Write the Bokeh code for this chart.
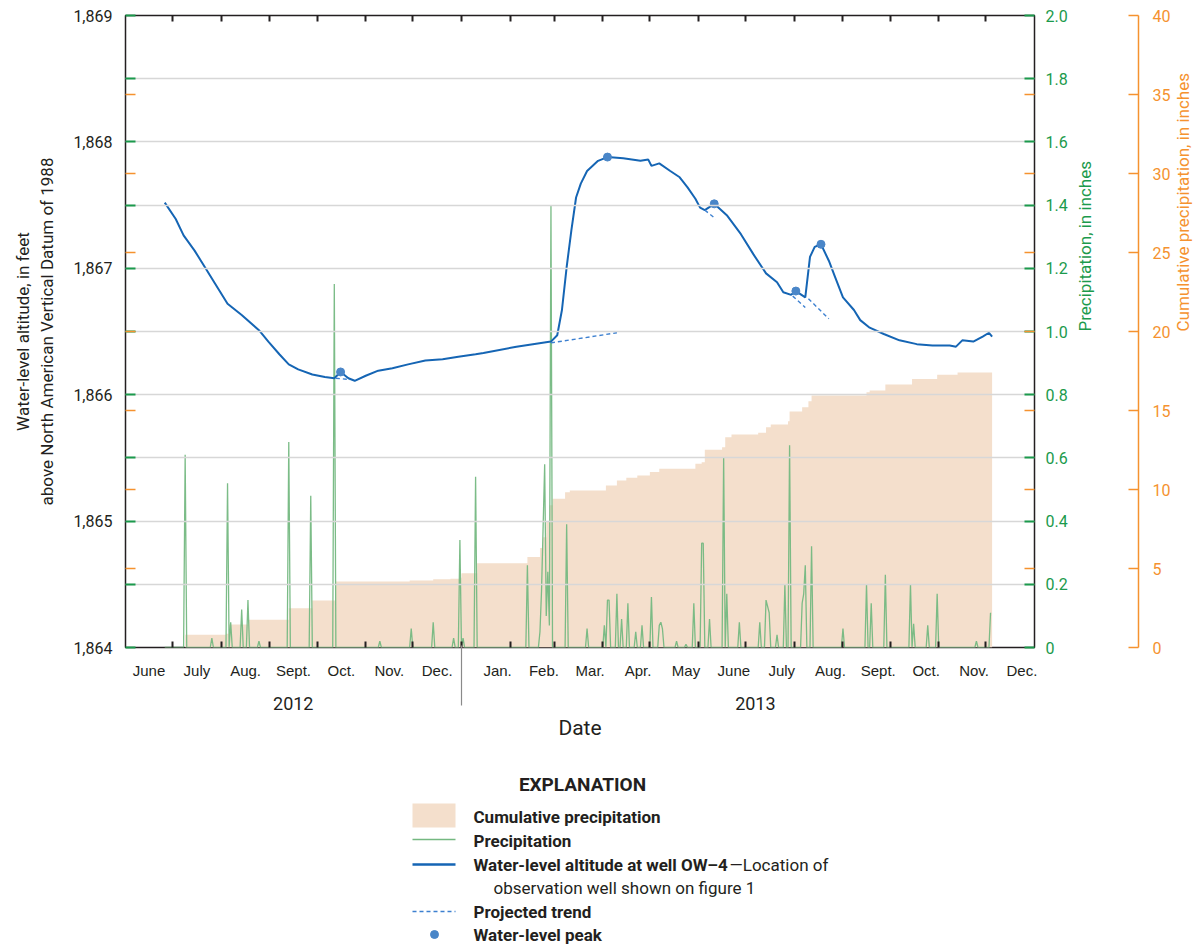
import math
import pandas as pd
from bokeh.plotting import figure
from bokeh.models import Range1d, LinearAxis, FixedTicker, Grid
from bokeh.layouts import column
from bokeh.embed import file_html
from bokeh.resources import INLINE
from bokeh.core.properties import value

# ------------------------------------------------------------------ data
wl_dates = ["2012-06-26","2012-07-03","2012-07-08","2012-07-15","2012-07-22","2012-07-28",
            "2012-08-05","2012-08-14","2012-08-25","2012-08-31","2012-09-07","2012-09-13",
            "2012-09-19","2012-09-28","2012-10-06","2012-10-12","2012-10-16","2012-10-21",
            "2012-10-25","2012-11-01","2012-11-09","2012-11-18","2012-11-28","2012-12-09",
            "2012-12-20","2012-12-30","2013-01-10","2013-01-15","2013-02-05","2013-02-27",
            "2013-03-03","2013-03-06","2013-03-09","2013-03-12","2013-03-15","2013-03-18",
            "2013-03-22","2013-03-29","2013-04-04","2013-04-14","2013-04-25","2013-04-30",
            "2013-05-02","2013-05-07","2013-05-14","2013-05-20","2013-05-25","2013-05-30",
            "2013-06-02","2013-06-05","2013-06-11","2013-06-19","2013-06-28","2013-07-06",
            "2013-07-14","2013-07-21","2013-07-25","2013-07-30","2013-08-02","2013-08-08",
            "2013-08-11","2013-08-14","2013-08-18","2013-08-23","2013-08-27","2013-09-01",
            "2013-09-08","2013-09-12","2013-09-18","2013-09-27","2013-10-07","2013-10-18",
            "2013-10-28","2013-11-08","2013-11-12","2013-11-16","2013-11-23","2013-11-29",
            "2013-12-03","2013-12-05"]
wl_ft = [1867.52,1867.39,1867.26,1867.14,1867.00,1866.88,
         1866.72,1866.63,1866.51,1866.42,1866.32,1866.24,
         1866.20,1866.16,1866.14,1866.13,1866.18,1866.13,
         1866.11,1866.15,1866.19,1866.21,1866.24,1866.27,
         1866.28,1866.30,1866.32,1866.33,1866.38,1866.42,
         1866.47,1866.67,1867.01,1867.30,1867.56,1867.67,
         1867.77,1867.85,1867.88,1867.87,1867.85,1867.86,
         1867.81,1867.83,1867.77,1867.72,1867.64,1867.55,
         1867.48,1867.46,1867.51,1867.42,1867.27,1867.11,
         1866.96,1866.89,1866.81,1866.79,1866.82,1866.77,
         1867.09,1867.17,1867.19,1867.06,1866.93,1866.77,
         1866.67,1866.59,1866.53,1866.48,1866.43,1866.40,
         1866.39,1866.39,1866.38,1866.43,1866.42,1866.46,
         1866.49,1866.46]

peak_dates = ["2012-10-16","2013-04-04","2013-06-11","2013-08-02","2013-08-18"]
peak_ft = [1866.18,1867.88,1867.51,1866.82,1867.19]

trend_dates = [["2012-10-13","2012-10-22"],["2013-02-27","2013-04-10"],["2013-06-05","2013-06-12"],
               ["2013-07-31","2013-08-08"],["2013-08-10","2013-08-23"]]
trend_ft = [[1866.13,1866.12],[1866.41,1866.49],[1867.46,1867.39],
            [1866.78,1866.69],[1866.76,1866.60]]

rain_dates = ["2012-07-09","2012-07-26","2012-08-05","2012-08-07","2012-08-14","2012-08-18",
              "2012-08-25","2012-09-13","2012-09-27","2012-10-12","2012-11-10","2012-11-30",
              "2012-12-14","2012-12-27","2012-12-31","2013-01-02","2013-01-10","2013-02-12",
              "2013-02-20","2013-02-21","2013-02-22","2013-02-23","2013-02-24","2013-02-25",
              "2013-02-26","2013-02-27","2013-03-09","2013-03-22","2013-04-02","2013-04-04",
              "2013-04-05","2013-04-10","2013-04-13","2013-04-17","2013-04-22","2013-04-26",
              "2013-05-02","2013-05-07","2013-05-08","2013-05-09","2013-05-18","2013-05-24",
              "2013-05-29","2013-06-03","2013-06-04","2013-06-08","2013-06-17","2013-06-19",
              "2013-06-27","2013-07-10","2013-07-14","2013-07-15","2013-07-16","2013-07-21",
              "2013-07-26","2013-07-29","2013-08-06","2013-08-07","2013-08-08","2013-08-12",
              "2013-09-01","2013-09-16","2013-09-19","2013-09-28","2013-10-14","2013-10-16",
              "2013-10-25","2013-10-31","2013-11-25","2013-12-04"]
rain_in = [0.61,0.03,0.52,0.08,0.12,0.15,
           0.02,0.65,0.48,1.15,0.02,0.06,
           0.08,0.03,0.34,0.03,0.54,0.26,
           0.05,0.18,0.38,0.58,0.10,0.24,
           0.07,1.40,0.39,0.06,0.07,0.15,
           0.15,0.17,0.09,0.14,0.05,0.07,
           0.16,0.07,0.08,0.06,0.02,0.01,
           0.14,0.33,0.33,0.09,0.60,0.17,
           0.08,0.08,0.15,0.13,0.11,0.04,
           0.20,0.64,0.14,0.17,0.26,0.32,
           0.06,0.20,0.14,0.23,0.20,0.075,
           0.07,0.17,0.02,0.11]
rain_first, rain_last = "2012-06-26", "2013-12-04"

cum_dates = ["2012-07-09","2012-08-04","2012-08-06","2012-08-18","2012-09-13","2012-09-28",
             "2012-10-13","2012-11-29","2012-12-14","2012-12-25","2012-12-31","2013-01-01",
             "2013-01-11","2013-02-12","2013-02-20","2013-02-22","2013-02-24","2013-02-26",
             "2013-02-28","2013-03-08","2013-03-11","2013-04-03","2013-04-10","2013-04-16",
             "2013-04-23","2013-05-01","2013-05-07","2013-05-30","2013-06-03","2013-06-05",
             "2013-06-16","2013-06-18","2013-06-22","2013-07-09","2013-07-14","2013-07-17",
             "2013-07-28","2013-07-29","2013-08-06","2013-08-10","2013-08-12","2013-09-16",
             "2013-09-18","2013-09-28","2013-10-15","2013-10-31","2013-11-13","2013-12-05"]
cum_in = [0.80,0.87,1.46,1.75,2.49,2.97,
          4.18,4.24,4.32,4.35,4.41,4.70,
          5.34,5.72,6.30,6.98,8.00,9.00,
          9.41,9.83,9.94,10.25,10.57,10.74,
          10.89,11.10,11.31,11.63,11.73,12.51,
          12.68,13.31,13.48,13.59,13.94,14.11,
          14.32,14.94,15.21,15.59,15.95,16.16,
          16.27,16.65,17.00,17.26,17.41,17.41]

month_names = ["June","July","Aug.","Sept.","Oct.","Nov.","Dec.",
               "Jan.","Feb.","Mar.","Apr.","May","June","July","Aug.","Sept.","Oct.","Nov.","Dec."]
year_names = ["2012", "2013"]
wl_tick_values = [1864, 1865, 1866, 1867, 1868, 1869]
wl_tick_labels = ["1,864", "1,865", "1,866", "1,867", "1,868", "1,869"]
precip_tick_values = [0.0, 0.2, 0.4, 0.6, 0.8, 1.0, 1.2, 1.4, 1.6, 1.8, 2.0]
precip_tick_labels = ["0", "0.2", "0.4", "0.6", "0.8", "1.0", "1.2", "1.4", "1.6", "1.8", "2.0"]
cum_tick_values = [0, 5, 10, 15, 20, 25, 30, 35, 40]
cum_tick_labels = ["0", "5", "10", "15", "20", "25", "30", "35", "40"]

# ------------------------------------------------------------------ helpers
ORIGIN = pd.Timestamp("2012-06-01")
END = pd.Timestamp("2014-01-01")


def dnum(d):
    return float((pd.Timestamp(d) - ORIGIN).days)


FONT_N = "Roboto"
FONT = "Liberation Sans"
TXT = "#231f20"
GREEN = "#1b9a4c"
ORANGE = "#f5922f"
PEACH = "#f4dfcc"
RAIN = "#74b881"
BLUE = "#1565b4"
PEAK = "#4a86c8"

month_starts = [dnum(d) for d in pd.date_range(ORIGIN, END, freq="MS")]
month_bounds = month_starts[1:-1]
jan_2013 = dnum("2013-01-01")
shift_2013 = 7.5
month_centers = []
for a, b in zip(month_starts[:-1], month_starts[1:]):
    c = (a + b) / 2.0
    if a >= jan_2013:
        c += shift_2013
    month_centers.append(c)
year_centers = [sum(month_centers[:7]) / 7.0, sum(month_centers[7:]) / 12.0 - 2.0]

wl_grid = [1864 + 0.5 * i for i in range(11)]
wl_over = {v: "" for v in wl_grid}
for v, lab in zip(wl_tick_values, wl_tick_labels):
    wl_over[float(v)] = lab
cum_marks_wl = [1864 + c * 5.0 / 40.0 for c in cum_tick_values[1:-1]]
cum_marks_pr = [c * 2.0 / 40.0 for c in cum_tick_values[1:-1]]

# daily precipitation series (days without a listed value had no rain)
rain_lookup = dict(zip(rain_dates, rain_in))
rain_days = pd.date_range(rain_first, rain_last, freq="D")
rain_x = [dnum(d) for d in rain_days]
rain_y = [rain_lookup.get(d.strftime("%Y-%m-%d"), 0.0) for d in rain_days]

# ------------------------------------------------------------------ main figure
p = figure(frame_width=909, frame_height=632,
           x_range=Range1d(0, dnum(END)), y_range=Range1d(1864, 1869),
           x_axis_location=None, y_axis_location=None,
           toolbar_location=None, output_backend="svg",
           min_border_left=125, min_border_top=15, min_border_right=4, min_border_bottom=111,
           outline_line_color=TXT, outline_line_width=1.5)
p.grid.visible = False
p.extra_y_ranges = {"precip": Range1d(0, 2), "cum": Range1d(0, 40)}

p.add_layout(Grid(dimension=1, ticker=FixedTicker(ticks=wl_grid[1:-1]),
                  grid_line_color="#d7d7d7", grid_line_width=1.5, level="glyph"))

# left axis (water level)
ax_l = LinearAxis(ticker=FixedTicker(ticks=wl_grid, minor_ticks=cum_marks_wl),
                  major_label_overrides=wl_over, axis_line_color=None,
                  major_tick_in=10, major_tick_out=0, major_tick_line_color=GREEN,
                  major_tick_line_width=2,
                  minor_tick_in=10, minor_tick_out=0, minor_tick_line_color=ORANGE,
                  minor_tick_line_width=1.5,
                  major_label_text_font=FONT_N, major_label_text_font_size="16px",
                  major_label_text_color=TXT, major_label_standoff=13,
                  axis_label="Water-level altitude, in feet\nabove North American Vertical Datum of 1988",
                  axis_label_text_font=FONT_N, axis_label_text_font_size="17px",
                  axis_label_text_font_style="normal", axis_label_text_color=TXT,
                  axis_label_standoff=13)
p.add_layout(ax_l, "left")

# right axis 1 (precipitation)
ax_p = LinearAxis(y_range_name="precip",
                  ticker=FixedTicker(ticks=precip_tick_values, minor_ticks=cum_marks_pr),
                  major_label_overrides=dict(zip(precip_tick_values, precip_tick_labels)),
                  axis_line_color=None,
                  major_tick_in=10, major_tick_out=0, major_tick_line_color=GREEN,
                  major_tick_line_width=2,
                  minor_tick_in=10, minor_tick_out=0, minor_tick_line_color=ORANGE,
                  minor_tick_line_width=1.5,
                  major_label_text_font=FONT_N, major_label_text_font_size="16px",
                  major_label_text_color=GREEN, major_label_standoff=11,
                  axis_label="Precipitation, in inches", axis_label_orientation=math.pi / 2,
                  axis_label_text_font=FONT_N, axis_label_text_font_size="17px",
                  axis_label_text_font_style="normal", axis_label_text_color=GREEN,
                  axis_label_standoff=14)
p.add_layout(ax_p, "right")

# spacer between the two right axes
ax_sp = LinearAxis(y_range_name="precip", ticker=FixedTicker(ticks=[]),
                   axis_line_color=None, major_tick_line_color=None, minor_tick_line_color=None,
                   major_tick_out=0, major_tick_in=0, minor_tick_out=0, minor_tick_in=0,
                   major_label_standoff=0, axis_label=" ", axis_label_standoff=0,
                   axis_label_text_font_size="25px")
p.add_layout(ax_sp, "right")

# right axis 2 (cumulative precipitation)
ax_c = LinearAxis(y_range_name="cum",
                  ticker=FixedTicker(ticks=cum_tick_values, minor_ticks=[]),
                  major_label_overrides=dict(zip(cum_tick_values, cum_tick_labels)),
                  axis_line_color=ORANGE, axis_line_width=1.5,
                  major_tick_in=10, major_tick_out=0, major_tick_line_color=ORANGE,
                  major_tick_line_width=1.5,
                  major_label_text_font=FONT_N, major_label_text_font_size="16px",
                  major_label_text_color=ORANGE, major_label_standoff=14,
                  axis_label="Cumulative precipitation, in inches",
                  axis_label_orientation=math.pi / 2,
                  axis_label_text_font=FONT_N, axis_label_text_font_size="17px",
                  axis_label_text_font_style="normal", axis_label_text_color=ORANGE,
                  axis_label_standoff=10)
p.add_layout(ax_c, "right")

# top: month-boundary ticks only
ax_t = LinearAxis(ticker=FixedTicker(ticks=[], minor_ticks=month_bounds),
                  axis_line_color=None, major_tick_line_color=None,
                  major_tick_in=0, major_tick_out=0,
                  minor_tick_in=6, minor_tick_out=0, minor_tick_line_color=TXT,
                  minor_tick_line_width=2, major_label_standoff=0)
p.add_layout(ax_t, "above")

# bottom 1: month labels + month-boundary ticks
ax_m = LinearAxis(ticker=FixedTicker(ticks=month_centers, minor_ticks=month_bounds),
                  major_label_overrides=dict(zip(month_centers, month_names)),
                  axis_line_color=None, major_tick_line_color=None,
                  major_tick_in=0, major_tick_out=0,
                  minor_tick_in=6, minor_tick_out=0, minor_tick_line_color=TXT,
                  minor_tick_line_width=2,
                  major_label_text_font=FONT, major_label_text_font_size="15px",
                  major_label_text_color=TXT, major_label_standoff=14)
p.add_layout(ax_m, "below")

# bottom 2: years, year divider and axis title
ax_y = LinearAxis(ticker=FixedTicker(ticks=year_centers, minor_ticks=[jan_2013]),
                  major_label_overrides=dict(zip(year_centers, year_names)),
                  axis_line_color=None, major_tick_line_color=None,
                  major_tick_in=0, major_tick_out=0,
                  minor_tick_in=36, minor_tick_out=24, minor_tick_line_color="#8a8a8a",
                  minor_tick_line_width=1.2,
                  major_label_text_font=FONT_N, major_label_text_font_size="18px",
                  major_label_text_color=TXT, major_label_standoff=-9,
                  axis_label="Date", axis_label_text_font=FONT_N,
                  axis_label_text_font_size="21px", axis_label_text_font_style="normal",
                  axis_label_text_color=TXT, axis_label_standoff=3)
p.add_layout(ax_y, "below")

# glyphs
cum_r = p.varea_step(x=[dnum(d) for d in cum_dates], y1=[0.0] * len(cum_in), y2=cum_in,
                     step_mode="after", y_range_name="cum", fill_color=PEACH)
cum_r.level = "underlay"
p.line(rain_x, rain_y, y_range_name="precip", line_color=RAIN,
       line_width=1.3, line_alpha=0.95)
p.line([dnum(d) for d in wl_dates], wl_ft, line_color=BLUE, line_width=2)
p.multi_line([[dnum(d) for d in seg] for seg in trend_dates], trend_ft,
             line_color="#3d80d0", line_width=1.4, line_dash="4 3")
p.scatter([dnum(d) for d in peak_dates], peak_ft, size=8, fill_color=PEAK, line_color=PEAK)

# ------------------------------------------------------------------ explanation figure
# frame lined up with the main frame, x measured in page pixels
LH = 186
lg = figure(frame_width=909, frame_height=LH, x_range=Range1d(125, 1034), y_range=Range1d(LH, 0),
            x_axis_location=None, y_axis_location=None, toolbar_location=None,
            output_backend="svg", min_border_left=125, min_border_right=163,
            min_border_top=0, min_border_bottom=0, outline_line_color=None)
lg.grid.visible = False

lg.text(x=[582], y=[26], text=["EXPLANATION"], text_font=value(FONT_N),
        text_font_style="bold", text_font_size="19px", text_align="center",
        text_baseline="middle", text_color=TXT)
lg.quad(left=[412], right=[455], top=[45], bottom=[69], fill_color=PEACH, line_color=None)
lg.line([412, 455], [81, 81], line_color=RAIN, line_width=1.5)
lg.line([412, 455], [106, 106], line_color=BLUE, line_width=2.5)
lg.line([412, 455], [153, 153], line_color="#3d80d0", line_width=1.4, line_dash="4 3")
lg.scatter([434], [176], size=8, fill_color=PEAK, line_color=PEAK)
lg.text(x=[473, 473, 473, 473, 473], y=[58, 82, 106, 153, 176],
        text=["Cumulative precipitation", "Precipitation", "Water-level altitude at well OW\u20134",
              "Projected trend", "Water-level peak"],
        text_font=value(FONT_N), text_font_style="bold", text_font_size="17px",
        text_align="left", text_baseline="middle", text_color=TXT)
lg.text(x=[729, 493], y=[106, 129],
        text=["\u2014Location of", "observation well shown on figure 1"],
        text_font=value(FONT_N), text_font_style="normal", text_font_size="17px",
        text_align="left", text_baseline="middle", text_color=TXT)

layout = column(p, lg, spacing=0)
open("out.html", "w").write(file_html(layout, INLINE))
